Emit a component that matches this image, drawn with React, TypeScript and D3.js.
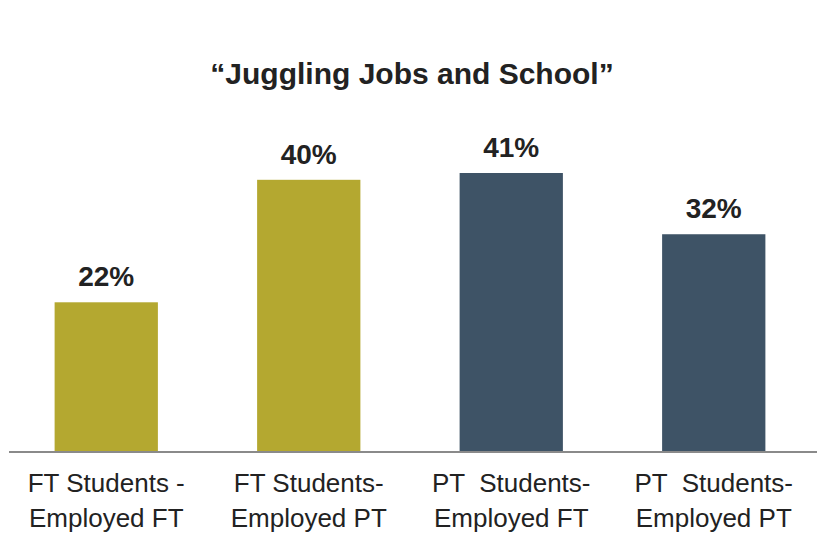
import React from "react";
import * as d3 from "d3";

const categories: string[][] = [
  ["FT Students -", "Employed FT"],
  ["FT Students-", "Employed PT"],
  ["PT  Students-", "Employed FT"],
  ["PT  Students-", "Employed PT"],
];
const values: number[] = [22, 40, 41, 32];
const colors: string[] = ["#b4a830", "#b4a830", "#3e5366", "#3e5366"];
const title = "\u201cJuggling Jobs and School\u201d";

const W = 817;
const H = 540;
const baseY = 452;

export default function App() {
  const x = d3
    .scaleBand<number>()
    .domain(values.map((_, i) => i))
    .range([5, 815])
    .paddingInner(0.49)
    .paddingOuter(0.245);
  const y = d3.scaleLinear().domain([0, 41]).range([baseY, 173]);
  const font = "'Liberation Sans', Arial, sans-serif";

  return (
    <svg
      width={W}
      height={H}
      style={{ position: "absolute", left: 0, top: 0, background: "#fff" }}
      fontFamily={font}
    >
      <text x={412} y={84} textAnchor="middle" fontSize={30} fontWeight="bold" fill="#222">
        {title}
      </text>
      {values.map((v, i) => {
        const bx = x(i)!;
        const bw = x.bandwidth();
        return (
          <g key={i}>
            <rect x={bx} y={y(v)} width={bw} height={baseY - y(v)} fill={colors[i]} />
            <text
              x={bx + bw / 2}
              y={y(v) - 16}
              textAnchor="middle"
              fontSize={28}
              fontWeight="bold"
              fill="#222"
            >
              {`${v}%`}
            </text>
            {categories[i].map((line, j) => (
              <text
                key={j}
                x={bx + bw / 2}
                y={492 + j * 35}
                textAnchor="middle"
                fontSize={26}
                fill="#222"
                style={{ whiteSpace: "pre" }}
              >
                {line}
              </text>
            ))}
          </g>
        );
      })}
      <line x1={9} x2={817} y1={baseY} y2={baseY} stroke="#8a8a8a" strokeWidth={2} />
    </svg>
  );
}
